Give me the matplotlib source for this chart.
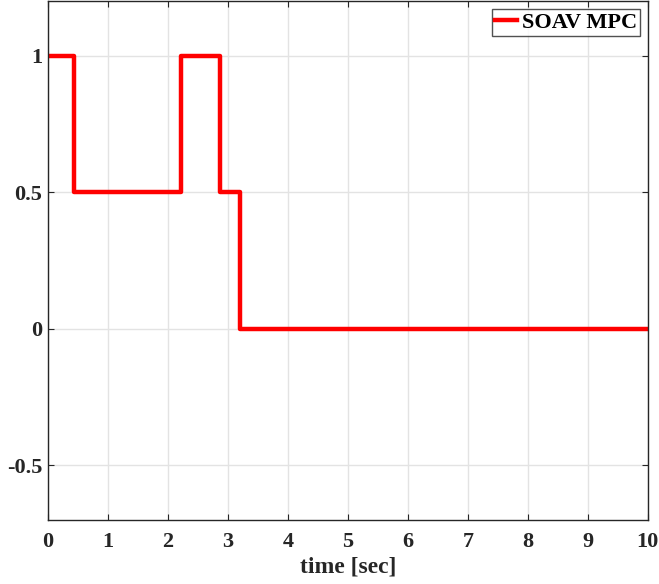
import matplotlib.pyplot as plt

# switching instants [sec] and the level held after each
t = [0, 0.44, 2.22, 2.86, 3.2, 10]
u = [1, 0.5, 1, 0.5, 0, 0]

plt.rcParams['font.family'] = ['Liberation Serif', 'DejaVu Serif']
plt.rcParams['font.weight'] = 'bold'

fig = plt.figure(figsize=(6.59, 5.84), dpi=100)
ax = fig.add_axes([0.0728, 0.1096, 0.9102, 0.8884])
ax.plot(t, u, drawstyle='steps-post', color='red', linewidth=3.2, label='SOAV MPC')

ax.set_xlim(0, 10)
ax.set_ylim(-0.7, 1.2)
ax.set_xticks(range(0, 11))
ax.set_yticks([-0.5, 0, 0.5, 1])
ax.set_yticklabels(['-0.5', '0', '0.5', '1'])
ax.grid(True, color='#e3e3e3', linewidth=1)
ax.set_axisbelow(True)
ax.tick_params(direction='in', top=True, right=True, labelsize=16, colors='#262626', length=4)
ax.tick_params(axis='x', pad=9)
ax.tick_params(axis='y', pad=4)
for s in ax.spines.values():
    s.set_color('#262626')
    s.set_linewidth(1)
ax.set_xlabel('time [sec]', fontsize=17, fontweight='bold', color='#262626', labelpad=3)
leg = ax.legend(loc='upper right', fontsize=16, frameon=True, fancybox=False,
                handlelength=1.0, handletextpad=0.2, borderpad=0.15, borderaxespad=0.35)
leg.get_frame().set_edgecolor('#262626')
leg.get_frame().set_linewidth(1)

fig.savefig('out.png', dpi=100)
